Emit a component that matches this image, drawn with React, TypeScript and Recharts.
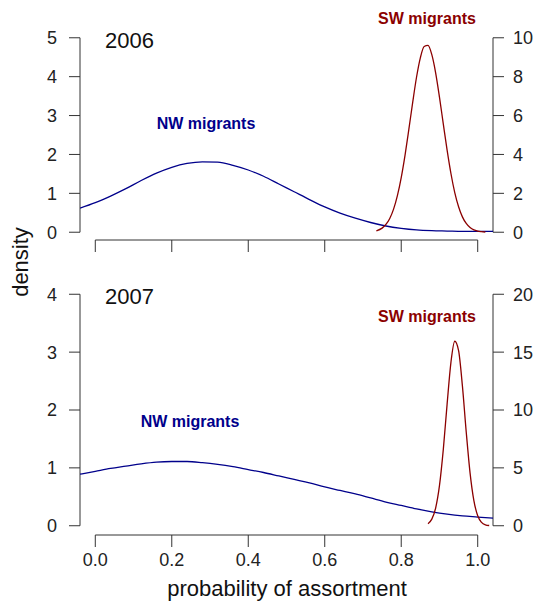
import { LineChart, Line, XAxis, YAxis, ReferenceLine } from "recharts";

// grid for the NW (blue) densities, probability of assortment
const nwX = [
  -0.04, 0.0, 0.04, 0.08, 0.12, 0.16, 0.2, 0.24, 0.28, 0.32, 0.36, 0.4, 0.44, 0.48,
  0.52, 0.56, 0.6, 0.64, 0.68, 0.72, 0.76, 0.8, 0.84, 0.88, 0.92, 0.96, 1.0, 1.04,
];
const nw2006 = [
  0.62, 0.76, 0.93, 1.12, 1.33, 1.52, 1.67, 1.77, 1.81, 1.8, 1.72, 1.6, 1.44, 1.24,
  1.04, 0.84, 0.65, 0.49, 0.36, 0.25, 0.16, 0.1, 0.06, 0.04, 0.03, 0.02, 0.02, 0.02,
];
const nw2007 = [
  0.89, 0.94, 0.99, 1.03, 1.07, 1.1, 1.11, 1.11, 1.09, 1.06, 1.02, 0.97, 0.92, 0.86,
  0.8, 0.74, 0.67, 0.61, 0.55, 0.48, 0.41, 0.35, 0.29, 0.24, 0.2, 0.17, 0.15, 0.13,
];

// SW (red) densities, right axis
const sw2006X = [
  0.735, 0.75, 0.76, 0.77, 0.78, 0.79, 0.8, 0.81, 0.82, 0.83, 0.84, 0.85, 0.86, 0.87,
  0.88, 0.89, 0.9, 0.91, 0.92, 0.93, 0.94, 0.95, 0.96, 0.97, 0.98, 0.99, 1.0, 1.01, 1.02,
];
const sw2006 = [
  0.07, 0.21, 0.4, 0.71, 1.19, 1.88, 2.81, 3.97, 5.3, 6.68, 7.97, 8.97, 9.55, 9.61,
  9.13, 8.2, 6.95, 5.57, 4.22, 3.02, 2.04, 1.31, 0.79, 0.45, 0.24, 0.12, 0.06, 0.03, 0.01,
];
const sw2007X = [
  0.87, 0.88, 0.89, 0.9, 0.91, 0.92, 0.93, 0.94, 0.95, 0.96, 0.97, 0.98, 0.99, 1.0,
  1.01, 1.02, 1.03,
];
const sw2007 = [
  0.18, 0.57, 1.53, 3.46, 6.58, 10.51, 14.12, 15.94, 15.13, 12.08, 8.1, 4.57, 2.17,
  0.86, 0.29, 0.08, 0.02,
];

const xTicks = [0, 0.2, 0.4, 0.6, 0.8, 1.0];

const zip = (xs: number[], ys: number[]) => xs.map((x, i) => ({ x, y: ys[i] }));

const FONT = "'Liberation Sans', Arial, Helvetica, sans-serif";
const AXIS = "#333";
const BLUE = "#00008b";
const RED = "#8b0000";
const tickStyle = { fontSize: 18, fill: "#222", fontFamily: FONT };

type PanelProps = {
  top: number;
  height: number;
  marginTop: number;
  xAxisHeight: number;
  nw: { x: number; y: number }[];
  sw: { x: number; y: number }[];
  leftMax: number;
  leftTicks: number[];
  rightMax: number;
  rightTicks: number[];
  showXLabels: boolean;
};

function Panel(p: PanelProps) {
  const lPad = p.leftMax * 0.04;
  const rPad = p.rightMax * 0.04;
  return (
    <div style={{ position: "absolute", left: 0, top: p.top }}>
      <LineChart
        width={536}
        height={p.height}
        margin={{ top: p.marginTop, right: 0, bottom: 0, left: 0 }}
      >
        <XAxis
          type="number"
          dataKey="x"
          domain={[-0.04, 1.04]}
          ticks={xTicks}
          allowDataOverflow
          interval={0}
          height={p.xAxisHeight}
          axisLine={false}
          tickSize={12}
          tickMargin={6}
          tickLine={{ stroke: AXIS }}
          tick={tickStyle}
          tickFormatter={(v: number) => (p.showXLabels ? v.toFixed(1) : "")}
        />
        <YAxis
          yAxisId="left"
          orientation="left"
          width={80}
          domain={[-lPad, p.leftMax + lPad]}
          ticks={p.leftTicks}
          allowDataOverflow
          interval={0}
          axisLine={false}
          tickSize={11}
          tickMargin={12}
          tickLine={{ stroke: AXIS }}
          tick={tickStyle}
        />
        <YAxis
          yAxisId="right"
          orientation="right"
          width={43}
          domain={[-rPad, p.rightMax + rPad]}
          ticks={p.rightTicks}
          allowDataOverflow
          interval={0}
          axisLine={false}
          tickSize={11}
          tickMargin={9}
          tickLine={{ stroke: AXIS }}
          tick={{ ...tickStyle, textAnchor: "start" }}
        />
        <ReferenceLine
          yAxisId="left"
          ifOverflow="visible"
          stroke={AXIS}
          segment={[{ x: -0.04, y: 0 }, { x: -0.04, y: p.leftMax }]}
        />
        <ReferenceLine
          yAxisId="right"
          ifOverflow="visible"
          stroke={AXIS}
          segment={[{ x: 1.04, y: 0 }, { x: 1.04, y: p.rightMax }]}
        />
        <ReferenceLine
          yAxisId="left"
          ifOverflow="visible"
          stroke={AXIS}
          segment={[{ x: 0, y: -lPad }, { x: 1, y: -lPad }]}
        />
        <Line
          yAxisId="left"
          data={p.nw}
          dataKey="y"
          type="monotone"
          stroke={BLUE}
          strokeWidth={1.3}
          dot={false}
          isAnimationActive={false}
        />
        <Line
          yAxisId="right"
          data={p.sw}
          dataKey="y"
          type="monotone"
          stroke={RED}
          strokeWidth={1.3}
          dot={false}
          isAnimationActive={false}
        />
      </LineChart>
    </div>
  );
}

export default function App() {
  const note = { fontFamily: FONT, fontSize: 16, fontWeight: 700 };
  const big = { fontFamily: FONT, fontSize: 22, fill: "#111" };
  return (
    <div
      style={{
        position: "absolute",
        left: 0,
        top: 0,
        width: 536,
        height: 602,
        background: "#fff",
        fontFamily: FONT,
      }}
    >
      <Panel
        top={0}
        height={260}
        marginTop={30}
        xAxisHeight={20}
        nw={zip(nwX, nw2006)}
        sw={zip(sw2006X, sw2006)}
        leftMax={5}
        leftTicks={[0, 1, 2, 3, 4, 5]}
        rightMax={10}
        rightTicks={[0, 2, 4, 6, 8, 10]}
        showXLabels={false}
      />
      <Panel
        top={270}
        height={332}
        marginTop={15}
        xAxisHeight={67}
        nw={zip(nwX, nw2007)}
        sw={zip(sw2007X, sw2007)}
        leftMax={4}
        leftTicks={[0, 1, 2, 3, 4]}
        rightMax={20}
        rightTicks={[0, 5, 10, 15, 20]}
        showXLabels={true}
      />
      <svg
        width={536}
        height={602}
        style={{ position: "absolute", left: 0, top: 0, pointerEvents: "none" }}
      >
        <text x={105} y={48} style={big}>2006</text>
        <text x={105} y={304} style={big}>2007</text>
        <text x={206} y={129} textAnchor="middle" fill={BLUE} style={note}>NW migrants</text>
        <text x={427} y={24} textAnchor="middle" fill={RED} style={note}>SW migrants</text>
        <text x={190} y={427} textAnchor="middle" fill={BLUE} style={note}>NW migrants</text>
        <text x={427} y={322} textAnchor="middle" fill={RED} style={note}>SW migrants</text>
        <text x={287} y={596} textAnchor="middle" style={big}>probability of assortment</text>
        <text x={28} y={262} textAnchor="middle" transform="rotate(-90 28 262)" style={big}>density</text>
      </svg>
    </div>
  );
}
